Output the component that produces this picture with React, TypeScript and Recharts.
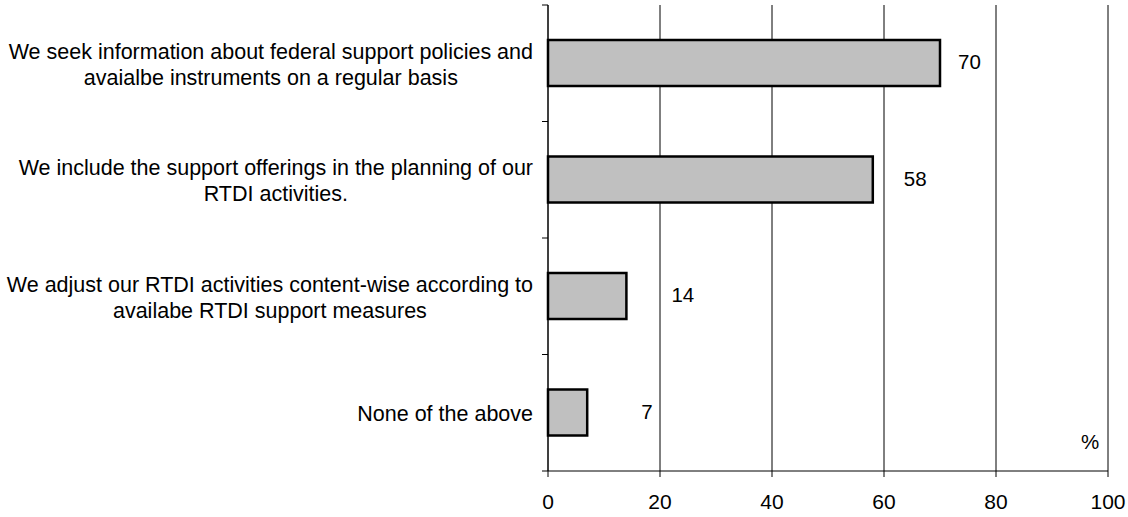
import { BarChart, Bar, XAxis, YAxis, CartesianGrid, LabelList } from "recharts";

const categories = [
  "We seek information about federal support policies and\navaialbe instruments on a regular basis",
  "We include the support offerings in the planning of our\nRTDI activities.",
  "We adjust our RTDI activities content-wise according to\navailabe RTDI support measures",
  "None of the above",
];
const values = [70, 58, 14, 7];
const xTicks = [0, 20, 40, 60, 80, 100];

const data = categories.map((name, i) => ({ name, value: values[i] }));

const FAMILY = "'Liberation Sans', Arial, sans-serif";
const FONT = `21.5px ${FAMILY}`;
const VALUE_FONT = `20.5px ${FAMILY}`;
const LABEL_DX = [18, 31, 45, 54];

let ctx: CanvasRenderingContext2D | null = null;
function textWidth(s: string) {
  if (!ctx) ctx = document.createElement("canvas").getContext("2d");
  if (!ctx) return s.length * 10;
  ctx.font = FONT;
  return ctx.measureText(s).width;
}

const BAND = 116.5;

function CategoryTick(props: any) {
  const { y, payload, index } = props;
  const lines = String(payload.value).split("\n");
  const right = 533;
  const maxW = Math.max(...lines.map(textWidth));
  const cx = right - maxW / 2;
  const lh = 26;
  const y0 = y + 1 - ((lines.length - 1) * lh) / 2;
  return (
    <g>
      <line x1={542} x2={548} y1={y - BAND / 2} y2={y - BAND / 2} stroke="#000" />
      {index === categories.length - 1 && (
        <line x1={542} x2={548} y1={y + BAND / 2} y2={y + BAND / 2} stroke="#000" />
      )}
      {lines.map((ln, i) => (
        <text
          key={i}
          x={cx}
          y={y0 + i * lh}
          dy="0.35em"
          textAnchor="middle"
          fill="#000"
          style={{ font: FONT }}
        >
          {ln}
        </text>
      ))}
    </g>
  );
}

function ValueLabel(props: any) {
  const { x, y, width, height, value, index } = props;
  return (
    <text
      x={x + width + LABEL_DX[index]}
      y={y + height / 2 - 1}
      dy="0.35em"
      textAnchor="start"
      fill="#000"
      style={{ font: VALUE_FONT }}
    >
      {value}
    </text>
  );
}

export default function App() {
  return (
    <div style={{ position: "absolute", left: 0, top: 0, width: 1128, height: 517, background: "#fff" }}>
      <BarChart
        width={1128}
        height={517}
        data={data}
        layout="vertical"
        margin={{ top: 5, right: 20, bottom: 0, left: 0 }}
        barSize={46}
      >
        <CartesianGrid horizontal={false} vertical stroke="#000" strokeWidth={1} />
        <XAxis
          type="number"
          domain={[0, 100]}
          ticks={xTicks}
          interval={0}
          axisLine={{ stroke: "#000" }}
          tickLine={{ stroke: "#000" }}
          tickSize={6}
          tickMargin={17}
          height={46}
          tick={{ fill: "#000", fontSize: 21, fontFamily: FAMILY }}
        />
        <YAxis
          type="category"
          dataKey="name"
          width={548}
          axisLine={{ stroke: "#000" }}
          tickLine={false}
          interval={0}
          tick={<CategoryTick />}
        />
        <Bar dataKey="value" fill="#C0C0C0" stroke="#000" strokeWidth={2.5} isAnimationActive={false}>
          <LabelList dataKey="value" content={<ValueLabel />} />
        </Bar>
      </BarChart>
      <div
        style={{
          position: "absolute",
          left: 1081,
          top: 430,
          font: VALUE_FONT,
          color: "#000",
        }}
      >
        %
      </div>
    </div>
  );
}
